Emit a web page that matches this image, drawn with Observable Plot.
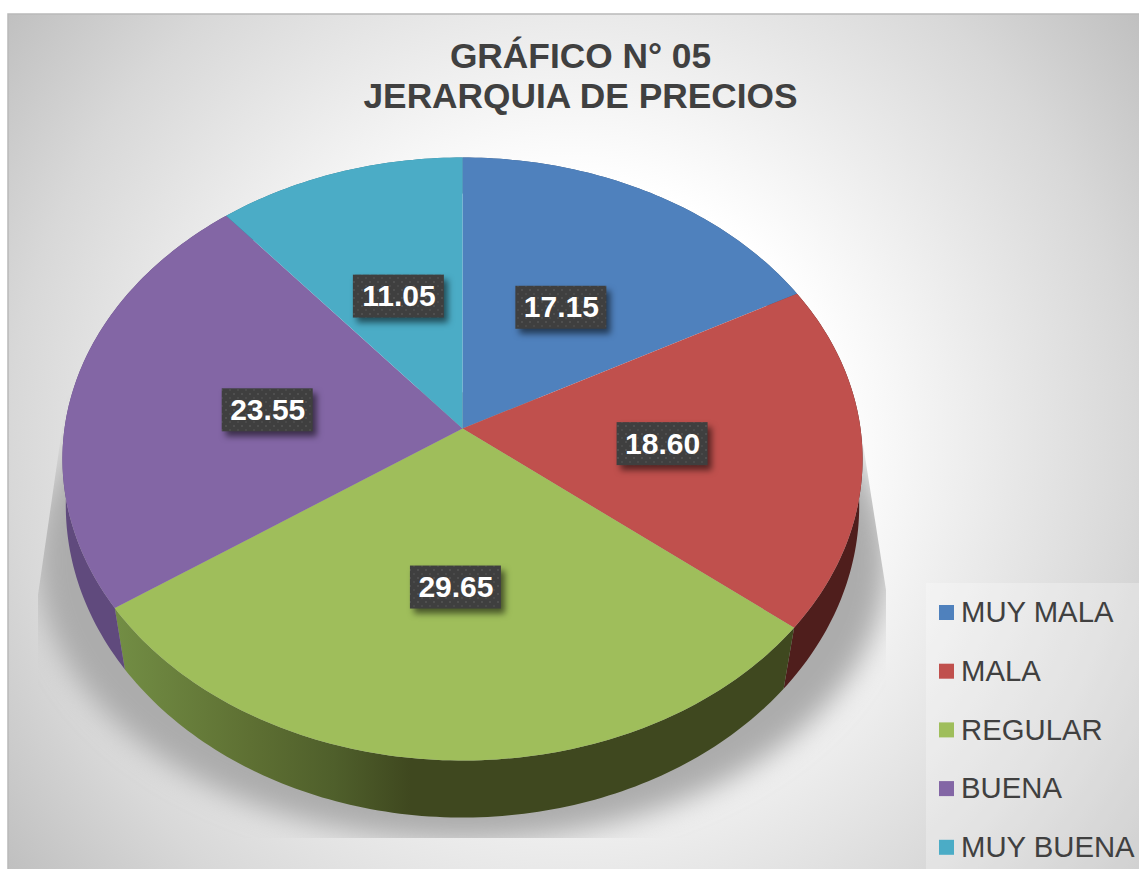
<!DOCTYPE html>
<html>
<head>
<meta charset="utf-8">
<script src="https://cdn.jsdelivr.net/npm/d3@7"></script>
<script src="https://cdn.jsdelivr.net/npm/@observablehq/plot@0.6"></script>
<style>
  html, body { margin: 0; padding: 0; background: #fff; overflow: hidden; }
  svg { display: block; }
</style>
</head>
<body>
<div id="chart"></div>
<script>
const categories = ["MUY MALA", "MALA", "REGULAR", "BUENA", "MUY BUENA"];
const values = [17.15, 18.60, 29.65, 23.55, 11.05];
const colors = ["#4f81bd", "#c0504d", "#9fbe5b", "#8366a5", "#4bacc6"];
const wallFills = ["#3a5a80", "#4f1e1c", "url(#wallGreen)", "#604a7d", "#2f7a8f"];
const titleLines = ["GRÁFICO N° 05", "JERARQUIA DE PRECIOS"];

// Perspective view of the disc: k tilts the unit circle away from the viewer.
const cx = 462;
const topFace = {cy: 428, A: 398, B: 298.4, k: 0.1012};
const lowFace = {cy: 486.3, A: 396, B: 310.9, k: 0.06};
const shadowFace = {cy: 532, A: 423, B: 277, k: 0.1012};
const shadowFill = "#acacac";
const project = (f, r, deg) => {
  const a = deg * Math.PI / 180, X = r * Math.sin(a), Y = r * Math.cos(a), w = 1 + f.k * Y;
  return [cx + f.A * X / w, f.cy - f.B * Y / w];
};
const arcDegrees = (a0, a1) => {
  const n = Math.max(2, Math.ceil(a1 - a0) + 1);
  return d3.range(n).map(i => a0 + (a1 - a0) * i / (n - 1));
};

let cum = 0;
const slices = categories.map((c, i) => {
  const a0 = cum * 3.6; cum += values[i]; const a1 = cum * 3.6;
  return {category: c, value: values[i], a0, a1, mid: (a0 + a1) / 2, wall: wallFills[i]};
});

const topPoints = slices.flatMap(s => [
  {category: s.category, p: [cx, topFace.cy]},
  ...arcDegrees(s.a0, s.a1).map(d => ({category: s.category, p: project(topFace, 1, d)}))
]);
const wallPoints = s => {
  const deg = arcDegrees(s.a0, s.a1);
  return [...deg.map(d => project(topFace, 1, d)), ...deg.reverse().map(d => project(lowFace, 1, d))];
};
const shadowPoints = arcDegrees(0, 360).map(d => project(shadowFace, 1, d));

const labels = slices.map(s => {
  const [x, y] = project(topFace, 0.5, s.mid);
  return {x: x + 1, y: y + 2, text: s.value.toFixed(2)};
});
const boxW = 91, boxH = 43;

const legendRows = categories.map((c, i) => ({category: c, y: 612.5 + i * 58.7}));

const defs = () => {
  const g = document.createElementNS("http://www.w3.org/2000/svg", "g");
  g.innerHTML = `<defs>
    <radialGradient id="bg" gradientUnits="userSpaceOnUse" cx="573" cy="440" r="720">
      <stop offset="0" stop-color="#ffffff"/><stop offset="0.36" stop-color="#ffffff"/>
      <stop offset="0.78" stop-color="#d8d8d8"/><stop offset="1" stop-color="#bebebe"/>
    </radialGradient>
    <linearGradient id="wallGreen" gradientUnits="userSpaceOnUse" x1="118" y1="0" x2="410" y2="0">
      <stop offset="0" stop-color="#728d44"/><stop offset="0.45" stop-color="#5e7033"/>
      <stop offset="0.74" stop-color="#4f5f2b"/><stop offset="1" stop-color="#3f481f"/>
    </linearGradient>
    <pattern id="dots" patternUnits="userSpaceOnUse" width="8" height="8">
      <rect width="8" height="8" fill="#3f3f3f"/>
      <rect x="1" y="1" width="2" height="2" fill="#4f4f4f"/>
      <rect x="5" y="5" width="2" height="2" fill="#4a4a4a"/>
    </pattern>
    <clipPath id="shadowClip" clipPathUnits="userSpaceOnUse">
      <polygon points="72,360 38,595 38,838 886,838 886,590 860,425"/>
    </clipPath>
    <filter id="shadowBlur" filterUnits="userSpaceOnUse" x="0" y="100" width="1000" height="800">
      <feGaussianBlur stdDeviation="14"/>
    </filter>
  </defs>`;
  return g;
};

const font = "'Liberation Sans', Arial, sans-serif";

const plot = Plot.plot({
  width: 1139,
  height: 869,
  margin: 0,
  x: {type: "identity", axis: null},
  y: {type: "identity", axis: null},
  color: {domain: categories, range: colors},
  style: {background: "#fff", fontFamily: font},
  marks: [
    defs,
    Plot.rect([{}], {x1: () => 8, x2: () => 1141, y1: () => 14, y2: () => 871,
      fill: "url(#bg)", stroke: "#b9b9b9", strokeWidth: 1.5}),
    Plot.line(shadowPoints, {x: d => d[0], y: d => d[1], fill: shadowFill, stroke: "none"}),
    Plot.rect([{}], {x1: () => 926, x2: () => 1139, y1: () => 583, y2: () => 869,
      fill: "#fff", fillOpacity: 0.28}),
    ...slices.map(s => Plot.line(wallPoints(s), {x: d => d[0], y: d => d[1], fill: s.wall, stroke: "none"})),
    Plot.line(topPoints, {x: d => d.p[0], y: d => d.p[1], z: "category", fill: "category", stroke: "none"}),
    Plot.rect(labels, {x1: d => d.x - boxW / 2, x2: d => d.x + boxW / 2,
      y1: d => d.y - boxH / 2, y2: d => d.y + boxH / 2,
      fill: "url(#dots)", imageFilter: "drop-shadow(4px 5px 3px rgba(0,0,0,0.55))"}),
    Plot.text(labels, {x: "x", y: "y", text: "text", fill: "#fff", fontSize: 30, fontWeight: "bold",
      fontFamily: font, lineAnchor: "middle"}),
    Plot.text(titleLines, {x: () => 580, y: (d, i) => 56 + i * 40, text: d => d, fill: "#404040",
      fontSize: 35.3, fontWeight: "bold", fontFamily: font, lineAnchor: "middle"}),
    Plot.rect(legendRows, {x1: () => 939, x2: () => 954, y1: d => d.y - 7.5, y2: d => d.y + 7.5, fill: "category"}),
    Plot.text(legendRows, {x: () => 960.5, y: "y", text: "category", textAnchor: "start", fill: "#404040",
      fontSize: 29.3, fontFamily: font, lineAnchor: "middle"})
  ]
});
// Blur the shadow, then cut it with the hard edges it has in the picture.
const shadowMark = plot.querySelector(`[fill="${shadowFill}"]`);
if (shadowMark) {
  const clipWrap = document.createElementNS("http://www.w3.org/2000/svg", "g");
  clipWrap.setAttribute("clip-path", "url(#shadowClip)");
  shadowMark.parentNode.insertBefore(clipWrap, shadowMark);
  clipWrap.append(shadowMark);
  shadowMark.setAttribute("filter", "url(#shadowBlur)");
}
document.getElementById("chart").append(plot);
</script>
</body>
</html>
